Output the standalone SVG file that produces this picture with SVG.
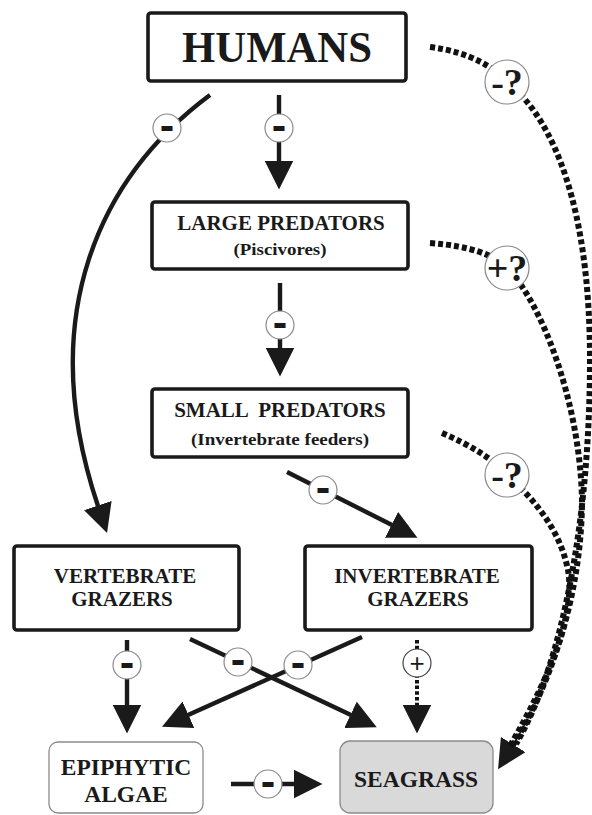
<svg xmlns="http://www.w3.org/2000/svg" width="592" height="815" viewBox="0 0 592 815">
<style>
.box{fill:#fff;stroke:#1a1a1a;stroke-width:3.6}
.soft{fill:#fff;stroke:#8a8a8a;stroke-width:1.3}
.sea{fill:#d9d9d9;stroke:#8a8a8a;stroke-width:1.3}
.t{font-family:"Liberation Serif","Times New Roman",serif;font-weight:bold;fill:#1a1a1a;text-anchor:middle}
.ln{fill:none;stroke:#1a1a1a;stroke-width:4.4}
.dot{fill:none;stroke:#111;stroke-width:6;stroke-dasharray:5 3}
.dotthin{fill:none;stroke:#111;stroke-width:4;stroke-dasharray:3.5 2.2}
.c{fill:#fff;stroke:#8a8a8a;stroke-width:1.2}
.m{font-family:"DejaVu Sans",sans-serif;font-weight:bold;font-size:36px;fill:#1a1a1a;text-anchor:middle}
.p{font-family:"Liberation Sans",Arial,sans-serif;font-size:26px;fill:#1a1a1a;text-anchor:middle}
.q{font-family:"Liberation Serif","Times New Roman",serif;font-weight:bold;font-size:38px;fill:#1a1a1a;text-anchor:middle}
</style>
<defs>
<marker id="ah" markerUnits="userSpaceOnUse" markerWidth="29" markerHeight="29" viewBox="0 0 29 29" refX="0.5" refY="14.5" orient="auto">
<path d="M0,0 L29,14.5 L0,29 z" fill="#1a1a1a"/>
</marker>
</defs>

<g id="connectors">
<path class="ln" d="M279,95 L279,161" marker-end="url(#ah)"/>
<path class="ln" d="M280,283 L280,348" marker-end="url(#ah)"/>
<path class="ln" d="M287,472 L392,525" marker-end="url(#ah)"/>
<path class="ln" d="M210,95 C100,177 34,315 98,506" marker-end="url(#ah)"/>
<path class="ln" d="M127,640 L127,705" marker-end="url(#ah)"/>
<path class="ln" d="M190,639 L351,715" marker-end="url(#ah)"/>
<path class="ln" d="M362,637 L188,715" marker-end="url(#ah)"/>
<path class="dotthin" d="M417,640 L417,705" marker-end="url(#ah)"/>
<path class="ln" d="M231,784 L294,784" marker-end="url(#ah)"/>
<path class="dot" d="M430,47 C470,52 495,68 507,82 C555,120 590,210 590,360 C590,510 565,660 516,744"/>
<path class="dot" d="M430,243 C470,246 495,255 507,268 C540,300 580,400 582,500 C582,580 558,672 513,745" marker-end="url(#ah)"/>
<path class="dot" d="M442,433 C470,445 495,460 507,475 C535,500 560,530 568,570 C576,615 548,680 510,746"/>
</g>

<g id="signs">
<circle class="c" cx="167" cy="128" r="14"/><text class="m" x="167" y="139">-</text>
<circle class="c" cx="279" cy="128" r="14"/><text class="m" x="279" y="139">-</text>
<circle class="c" cx="280" cy="325" r="14"/><text class="m" x="280" y="336">-</text>
<circle class="c" cx="323" cy="490" r="14"/><text class="m" x="323" y="501">-</text>
<circle class="c" cx="127" cy="665" r="14"/><text class="m" x="127" y="676">-</text>
<circle class="c" cx="238" cy="662" r="14"/><text class="m" x="238" y="673">-</text>
<circle class="c" cx="298" cy="665" r="14"/><text class="m" x="298" y="676">-</text>
<circle class="c" cx="417" cy="663" r="14" style="stroke:#444"/><text class="p" x="417" y="672">+</text>
<circle class="c" cx="268" cy="784" r="14"/><text class="m" x="268" y="795">-</text>
<circle class="c" cx="507" cy="82" r="22"/><text class="q" x="507" y="95">-?</text>
<circle class="c" cx="507" cy="268" r="22"/><text class="q" x="507" y="281">+?</text>
<circle class="c" cx="507" cy="475" r="22"/><text class="q" x="507" y="488">-?</text>
</g>

<g id="humans">
<rect class="box" x="148" y="13" width="258" height="68" rx="3"/>
<text class="t" x="277" y="62" font-size="45" textLength="190" lengthAdjust="spacingAndGlyphs">HUMANS</text>
</g>
<g id="large-predators">
<rect class="box" x="152" y="202" width="256" height="67" rx="3"/>
<text class="t" x="281" y="230" font-size="21">LARGE PREDATORS</text>
<text class="t" x="280" y="255" font-size="17.5" textLength="93" lengthAdjust="spacingAndGlyphs">(Piscivores)</text>
</g>
<g id="small-predators">
<rect class="box" x="152" y="389" width="256" height="68" rx="3"/>
<text class="t" x="280" y="417" font-size="21" xml:space="preserve">SMALL  PREDATORS</text>
<text class="t" x="280" y="445" font-size="17.5" textLength="178" lengthAdjust="spacingAndGlyphs">(Invertebrate feeders)</text>
</g>
<g id="vertebrate-grazers">
<rect class="box" x="14" y="546" width="225" height="84" rx="3"/>
<text class="t" x="125" y="583" font-size="21">VERTEBRATE</text>
<text class="t" x="122" y="606" font-size="21">GRAZERS</text>
</g>
<g id="invertebrate-grazers">
<rect class="box" x="305" y="546" width="227" height="84" rx="3"/>
<text class="t" x="417" y="583" font-size="21">INVERTEBRATE</text>
<text class="t" x="418" y="606" font-size="21">GRAZERS</text>
</g>
<g id="epiphytic-algae">
<rect class="soft" x="49" y="742" width="154" height="71" rx="9"/>
<text class="t" x="126" y="775" font-size="23.5">EPIPHYTIC</text>
<text class="t" x="126" y="802" font-size="23.5">ALGAE</text>
</g>
<g id="seagrass">
<rect class="sea" x="340" y="741" width="153" height="72" rx="10"/>
<text class="t" x="416" y="787" font-size="23.5">SEAGRASS</text>
</g>
</svg>
